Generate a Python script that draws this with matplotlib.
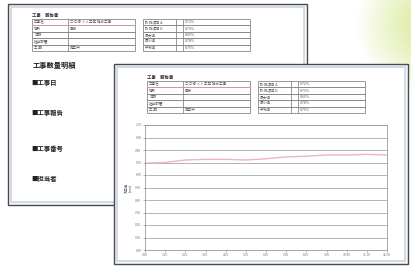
import numpy as np
from matplotlib import pyplot as plt
from matplotlib.patches import Rectangle

plt.rcParams['font.family'] = ['Noto Sans CJK JP', 'DejaVu Sans']

# report header tables
left_labels = ['工事名', '場所', '日時', '担当部署', '工 期']
left_values = ['○○線 ××工区 補修工事', '東京', '', '', '施工中']
right_labels = ['計測項目 A', '計測項目 B', '最大値', '最小値', '平均値']
right_values = ['0.72%', '0.73%', '0.65%', '0.78%', '0.75%']

# back page sections
heading = '工事数量明細'
sections = ['■工事日', '■工事報告', '■工事番号', '■担当者']
section_y = [82, 113, 149, 179]

# chart data
x_labels = ['0:00', '1:00', '2:00', '3:00', '4:00', '5:00', '6:00',
            '7:00', '8:00', '9:00', '10:00', '11:00', '12:00']
y_ticks = [0, 1, 2, 3, 4, 5, 6, 7, 8, 9, 10]
y_labels = ['0.00', '0.10', '0.20', '0.30', '0.40', '0.50',
            '0.60', '0.70', '0.80', '0.90', '1.00']
series = [6.95, 7.0, 7.2, 7.25, 7.25, 7.2, 7.3, 7.45, 7.5, 7.6, 7.6, 7.65, 7.6]

W, H = 411, 267
fig = plt.figure(figsize=(W / 100, H / 100), dpi=100)
bg = fig.add_axes([0, 0, 1, 1])
bg.set_xlim(0, W)
bg.set_ylim(H, 0)
bg.axis('off')

# green glow top right
yy, xx = np.mgrid[0:H, 0:W]
d = np.sqrt(((xx - 440) / 85.0) ** 2 + ((yy - 25) / 70.0) ** 2)
a = np.clip(1 - d, 0, 1) ** 0.9
img = np.ones((H, W, 3))
glow = np.array([0.82, 0.90, 0.52])
for c in range(3):
    img[:, :, c] = 1 - a * (1 - glow[c])
bg.imshow(img, extent=(0, W, H, 0), zorder=0, aspect='auto')


def page(x, y, w, h, z):
    bg.add_patch(Rectangle((x, y), w, h, facecolor='#f4f7fa', edgecolor='#4a4a4a', lw=1.0, zorder=z))
    bg.add_patch(Rectangle((x + 3, y + 3), w - 6, h - 6, facecolor='white', edgecolor='#c9d6e2', lw=1.2, zorder=z))


def header(x, y, z):
    bg.text(x, y - 4, '工事　報告書', fontsize=3.2, fontweight='bold', color='#333', va='center', zorder=z)
    rh = 6.4
    for i in range(5):
        ry = y + i * rh
        bg.add_patch(Rectangle((x, ry), 103, rh, facecolor='none', edgecolor='#888', lw=0.6, zorder=z))
        bg.plot([x + 36, x + 36], [ry, ry + rh], color='#888', lw=0.6, zorder=z)
        bg.text(x + 2, ry + rh / 2, left_labels[i], fontsize=2.6, color='#555', va='center', zorder=z)
        bg.text(x + 38, ry + rh / 2, left_values[i], fontsize=2.6, color='#555', va='center', zorder=z)
        rx = x + 111
        bg.add_patch(Rectangle((rx, ry), 107, rh, facecolor='none', edgecolor='#888', lw=0.6, zorder=z))
        bg.plot([rx + 33, rx + 33], [ry, ry + rh], color='#888', lw=0.6, zorder=z)
        bg.plot([rx + 40, rx + 40], [ry, ry + rh], color='#888', lw=0.6, zorder=z)
        bg.text(rx + 2, ry + rh / 2, right_labels[i], fontsize=2.6, color='#555', va='center', zorder=z)
        bg.text(rx + 42, ry + rh / 2, right_values[i], fontsize=2.6, color='#555', va='center', zorder=z)
    bg.plot([x, x + 103], [y + rh, y + rh], color='#d9a0a0', lw=0.6, zorder=z)


# back page
page(8, 4, 299, 201, 1)
header(32, 19, 2)
bg.text(33, 65, heading, fontsize=5.2, fontweight='bold', color='#222', va='center', zorder=2)
for s, y in zip(sections, section_y):
    bg.text(31, y, s, fontsize=4.6, fontweight='bold', color='#222', va='center', zorder=2)

# front page
page(114, 64, 294, 200, 3)
header(147, 81, 4)
bg.text(129, 188, '測定値\n(mm)', fontsize=2.4, color='#555', rotation=90, va='center', ha='center', zorder=4)

# chart
ax = fig.add_axes([145 / W, 1 - 250 / H, 242 / W, 125 / H])
ax.set_facecolor('white')
ax.plot(range(len(series)), series, color='#eeb4c0', lw=1.0)
ax.set_xlim(0, len(x_labels) - 1)
ax.set_ylim(0, 10)
ax.set_xticks(range(len(x_labels)))
ax.set_xticklabels(x_labels)
ax.set_yticks(y_ticks)
ax.set_yticklabels(y_labels)
ax.tick_params(labelsize=2.4, colors='#777', length=1.5, width=0.4, pad=1)
ax.grid(axis='y', color='#a8a8a8', lw=0.6)
for sp in ax.spines.values():
    sp.set_color('#999')
    sp.set_linewidth(0.6)

fig.savefig('out.png', dpi=100)
